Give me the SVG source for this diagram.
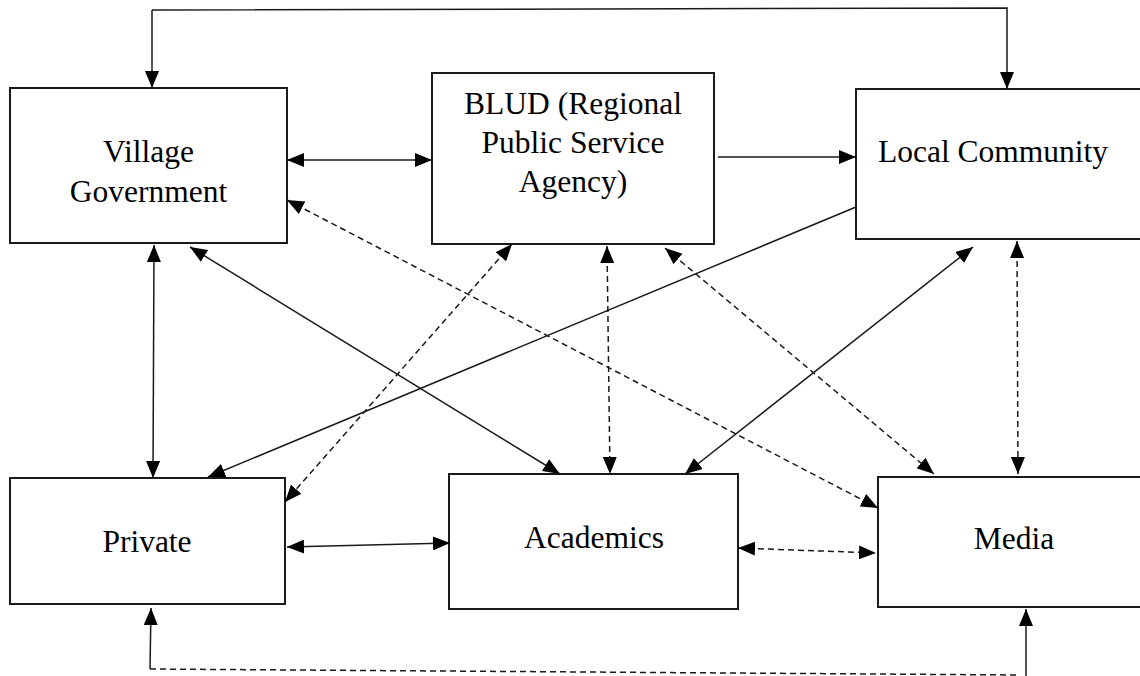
<svg xmlns="http://www.w3.org/2000/svg" width="1140" height="676" viewBox="0 0 1140 676">
<style>
.box{fill:#fff;stroke:#1a1a1a;stroke-width:2}
.lbl{font-family:"Liberation Serif","Times New Roman",serif;font-size:31.5px;fill:#000;text-anchor:middle}
.ln{fill:none;stroke:#1a1a1a;stroke-width:1.5}
.ds{stroke-dasharray:6 4}
</style>
<defs>
<marker id="ah" markerUnits="userSpaceOnUse" markerWidth="17" markerHeight="14" refX="17" refY="7" orient="auto-start-reverse" viewBox="0 0 17 14">
<path d="M0,0 L17,7 L0,14 z" fill="#000"/>
</marker>
</defs>
<rect width="1140" height="676" fill="#fff"/>
<g id="village-government">
<rect class="box" x="10" y="88" width="277" height="155"/>
<text class="lbl" x="148.5" y="162">Village</text>
<text class="lbl" x="148.5" y="202">Government</text>
</g>
<g id="blud">
<rect class="box" x="432" y="73" width="282" height="171"/>
<text class="lbl" x="573" y="114">BLUD (Regional</text>
<text class="lbl" x="573" y="153">Public Service</text>
<text class="lbl" x="573" y="192">Agency)</text>
</g>
<g id="local-community">
<rect class="box" x="856" y="89" width="290" height="150"/>
<text class="lbl" x="993" y="162">Local Community</text>
</g>
<g id="private">
<rect class="box" x="10" y="478" width="275" height="126"/>
<text class="lbl" x="147" y="552">Private</text>
</g>
<g id="academics">
<rect class="box" x="449" y="474" width="289" height="135"/>
<text class="lbl" x="594" y="548">Academics</text>
</g>
<g id="media">
<rect class="box" x="878" y="477" width="270" height="130"/>
<text class="lbl" x="1014" y="549">Media</text>
</g>
<g id="connectors">
<polyline class="ln" points="152,10 1007,8 1007,89" marker-end="url(#ah)"/>
<line class="ln" x1="152" y1="10" x2="152" y2="88" marker-end="url(#ah)"/>
<line class="ln" x1="287" y1="160" x2="432" y2="160" marker-start="url(#ah)" marker-end="url(#ah)"/>
<line class="ln" x1="718" y1="157" x2="856" y2="157" marker-end="url(#ah)"/>
<line class="ln" x1="856" y1="207" x2="208" y2="477" marker-end="url(#ah)"/>
<line class="ln" x1="154" y1="245" x2="153" y2="478" marker-start="url(#ah)" marker-end="url(#ah)"/>
<line class="ln" x1="190" y1="247" x2="560" y2="474" marker-start="url(#ah)" marker-end="url(#ah)"/>
<line class="ln ds" x1="287" y1="200" x2="878" y2="508" marker-start="url(#ah)" marker-end="url(#ah)"/>
<line class="ln ds" x1="512" y1="244" x2="285" y2="502" marker-start="url(#ah)" marker-end="url(#ah)"/>
<line class="ln ds" x1="607" y1="246" x2="610" y2="474" marker-start="url(#ah)" marker-end="url(#ah)"/>
<line class="ln ds" x1="665" y1="248" x2="934" y2="474" marker-start="url(#ah)" marker-end="url(#ah)"/>
<line class="ln" x1="973" y1="247" x2="685" y2="474" marker-start="url(#ah)" marker-end="url(#ah)"/>
<line class="ln ds" x1="1017" y1="241" x2="1018" y2="474" marker-start="url(#ah)" marker-end="url(#ah)"/>
<line class="ln" x1="287" y1="547" x2="450" y2="543" marker-start="url(#ah)" marker-end="url(#ah)"/>
<line class="ln ds" x1="738" y1="548" x2="876" y2="553" marker-start="url(#ah)" marker-end="url(#ah)"/>
<line class="ln ds" x1="150" y1="669" x2="1020" y2="675"/>
<line class="ln" x1="150" y1="669" x2="151" y2="608" marker-end="url(#ah)"/>
<line class="ln" x1="1026" y1="676" x2="1026" y2="609" marker-end="url(#ah)"/>
</g>
</svg>
